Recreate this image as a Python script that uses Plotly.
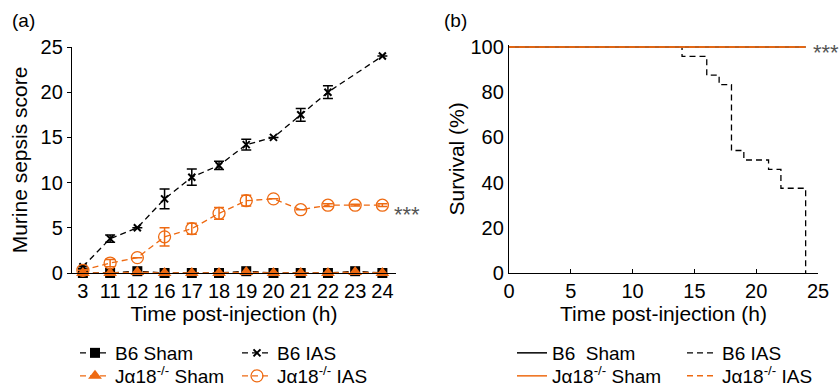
import plotly.graph_objects as go

# ---------------- Data: panel (a) ----------------
time_labels = ["3", "11", "12", "16", "17", "18", "19", "20", "21", "22", "23", "24"]

b6_sham = [0.0, 0.0, 0.2, 0.0, 0.0, 0.0, 0.2, 0.0, 0.0, 0.0, 0.2, 0.0]
ja_sham = [0.0, 0.0, 0.1, 0.0, 0.0, 0.0, 0.1, 0.0, 0.0, 0.0, 0.1, 0.0]

b6_ias = [0.7, 3.8, 5.0, 8.2, 10.6, 11.9, 14.2, 15.0, 17.5, 20.0, None, 24.0]
b6_ias_err = [0.0, 0.4, 0.0, 1.1, 0.9, 0.45, 0.6, 0.0, 0.7, 0.7, 0.0, 0.0]

ja_ias = [0.3, 1.1, 1.7, 4.0, 4.9, 6.6, 8.0, 8.2, 7.0, 7.5, 7.5, 7.5]
ja_ias_err = [0.0, 0.4, 0.0, 1.0, 0.6, 0.65, 0.6, 0.0, 0.0, 0.15, 0.1, 0.15]

# ---------------- Data: panel (b) ----------------
b6_ias_surv_t = [0, 14, 16, 17, 18, 19, 21, 22, 24, 24]
b6_ias_surv = [100, 95.8, 87.5, 83.3, 54.2, 50.0, 45.8, 37.5, 0, 0]

sham_surv_t = [0, 24]
sham_surv = [100, 100]
ja_ias_surv_t = [0, 24]
ja_ias_surv = [100, 100]

b6_censor_t = [14, 18, 21, 22, 23]
ja_censor_t = [16, 17, 19, 20, 24]
censor_level = 100
CENSOR_OFFSET = 1.3

ORANGE = "#EE6A12"
BLACK = "#000000"
FONT = "Liberation Sans, Arial, sans-serif"

fig = go.Figure()

# ---- Panel (a) traces ----
fig.add_trace(go.Scatter(
    x=time_labels, y=b6_sham, name="B6 Sham", mode="lines+markers",
    cliponaxis=False,
    line=dict(color=BLACK, width=1.3, dash="6px,4px"),
    marker=dict(symbol="square", size=10, color=BLACK),
    xaxis="x", yaxis="y", legend="legend"))
fig.add_trace(go.Scatter(
    x=time_labels, y=b6_ias, name="B6 IAS", mode="lines+markers",
    connectgaps=True, cliponaxis=False,
    line=dict(color=BLACK, width=1.3, dash="6px,4px"),
    marker=dict(symbol="x-thin", size=7, line=dict(color=BLACK, width=2)),
    error_y=dict(type="data", array=b6_ias_err, visible=True, color=BLACK,
                 thickness=1.5, width=5),
    xaxis="x", yaxis="y", legend="legend"))
fig.add_trace(go.Scatter(
    x=time_labels, y=ja_sham, name="J\u03b118<sup>-/-</sup> Sham", mode="lines+markers",
    cliponaxis=False,
    line=dict(color=ORANGE, width=1.3, dash="6px,4px"),
    marker=dict(symbol="triangle-up", size=12, color=ORANGE),
    xaxis="x", yaxis="y", legend="legend2"))
fig.add_trace(go.Scatter(
    x=time_labels, y=ja_ias, name="J\u03b118<sup>-/-</sup> IAS", mode="lines+markers",
    cliponaxis=False,
    line=dict(color=ORANGE, width=1.3, dash="6px,4px"),
    marker=dict(symbol="circle-open", size=12, color=ORANGE, line=dict(width=1.3)),
    error_y=dict(type="data", array=ja_ias_err, visible=True, color=ORANGE,
                 thickness=1.5, width=5),
    xaxis="x", yaxis="y", legend="legend2"))

# ---- Panel (b) traces ----
fig.add_trace(go.Scatter(
    x=sham_surv_t, y=sham_surv, name="B6\u00a0 Sham", mode="lines",
    line=dict(color=BLACK, width=1.5),
    xaxis="x2", yaxis="y2", legend="legend3"))
fig.add_trace(go.Scatter(
    x=b6_ias_surv_t, y=b6_ias_surv, name="B6 IAS", mode="lines",
    line=dict(color=BLACK, width=1.3, dash="6px,4px", shape="hv"),
    xaxis="x2", yaxis="y2", legend="legend3"))
fig.add_trace(go.Scatter(
    x=ja_ias_surv_t, y=ja_ias_surv, name="J\u03b118<sup>-/-</sup> IAS", mode="lines",
    line=dict(color=ORANGE, width=1.5, dash="6px,4px"),
    xaxis="x2", yaxis="y2", legend="legend4", legendrank=2))
fig.add_trace(go.Scatter(
    x=sham_surv_t, y=sham_surv, name="J\u03b118<sup>-/-</sup> Sham", mode="lines",
    line=dict(color=ORANGE, width=1.5),
    xaxis="x2", yaxis="y2", legend="legend4", legendrank=1))
fig.add_trace(go.Scatter(
    x=b6_censor_t, y=[censor_level + CENSOR_OFFSET] * len(b6_censor_t),
    mode="markers", showlegend=False, cliponaxis=False,
    marker=dict(symbol="line-ns", size=6, line=dict(color=BLACK, width=1.3)),
    xaxis="x2", yaxis="y2"))
fig.add_trace(go.Scatter(
    x=ja_censor_t, y=[censor_level + CENSOR_OFFSET] * len(ja_censor_t),
    mode="markers", showlegend=False, cliponaxis=False,
    marker=dict(symbol="line-ns", size=6, line=dict(color=ORANGE, width=1.3)),
    xaxis="x2", yaxis="y2"))

W, H = 840, 387
def px_x(p):
    return p / W
def px_y(p):
    return 1 - p / H

axis_common = dict(showline=True, linecolor=BLACK, linewidth=1.3, showgrid=False,
                   zeroline=False, automargin=False,
                   tickfont=dict(size=20, color=BLACK, family=FONT),
                   title_font=dict(size=21, color=BLACK, family=FONT))

legend_common = dict(orientation="h", xanchor="left", yanchor="middle",
                     bgcolor="rgba(0,0,0,0)", font=dict(size=19, color=BLACK, family=FONT),
                     tracegroupgap=0, itemwidth=30, entrywidthmode="pixels",
                     traceorder="normal")

fig.update_layout(
    width=W, height=H,
    margin=dict(l=0, r=0, t=0, b=0, autoexpand=False),
    paper_bgcolor="white", plot_bgcolor="white",
    font=dict(family=FONT, color=BLACK),
    showlegend=True,
    xaxis=dict(domain=[px_x(72), px_x(396)], anchor="y", type="category",
               categoryorder="array", categoryarray=time_labels,
               range=[-0.4, 11.5], ticks="",
               title=dict(text="Time post-injection (h)", standoff=2), **axis_common),
    yaxis=dict(domain=[px_y(273), px_y(47)], anchor="x", range=[0, 25], dtick=5,
               ticks="outside", ticklen=4, tickwidth=1.3, tickcolor=BLACK,
               title=dict(text="Murine sepsis score", standoff=7), **axis_common),
    xaxis2=dict(domain=[px_x(509), px_x(818)], anchor="y2", range=[0, 25], dtick=5,
                ticks="inside", ticklen=4, tickwidth=1.3, tickcolor=BLACK,
                title=dict(text="Time post-injection (h)", standoff=2), **axis_common),
    yaxis2=dict(domain=[px_y(273), px_y(44.7)], anchor="x2", range=[0, 101],
                tickvals=[0, 20, 40, 60, 80, 100],
                ticks="", title=dict(text="Survival (%)", standoff=0), **axis_common),
    legend=dict(x=px_x(75), y=px_y(353), entrywidth=117, **legend_common),
    legend2=dict(x=px_x(75), y=px_y(376), entrywidth=117, **legend_common),
    legend3=dict(x=px_x(512), y=px_y(353), entrywidth=125, **legend_common),
    legend4=dict(x=px_x(512), y=px_y(376), entrywidth=125, **legend_common),
    annotations=[
        dict(text="(a)", x=px_x(10), y=px_y(20), xref="paper", yref="paper",
             xanchor="left", yanchor="middle", showarrow=False,
             font=dict(size=19, color=BLACK, family=FONT)),
        dict(text="(b)", x=px_x(442), y=px_y(20), xref="paper", yref="paper",
             xanchor="left", yanchor="middle", showarrow=False,
             font=dict(size=19, color=BLACK, family=FONT)),
        dict(text="***", x=len(time_labels) - 1, y=ja_ias[-1], xref="x", yref="y",
             xanchor="left", yanchor="middle", xshift=10, yshift=-9, showarrow=False,
             font=dict(size=22, color="#555555", family=FONT)),
        dict(text="***", x=ja_ias_surv_t[-1], y=censor_level, xref="x2", yref="y2",
             xanchor="left", yanchor="middle", xshift=5, yshift=-6, showarrow=False,
             font=dict(size=22, color="#555555", family=FONT)),
    ],
)

fig.write_html(
    "out.html",
    config={"displayModeBar": False},
    post_script="document.body.style.margin='0';document.body.style.padding='0';",
)
